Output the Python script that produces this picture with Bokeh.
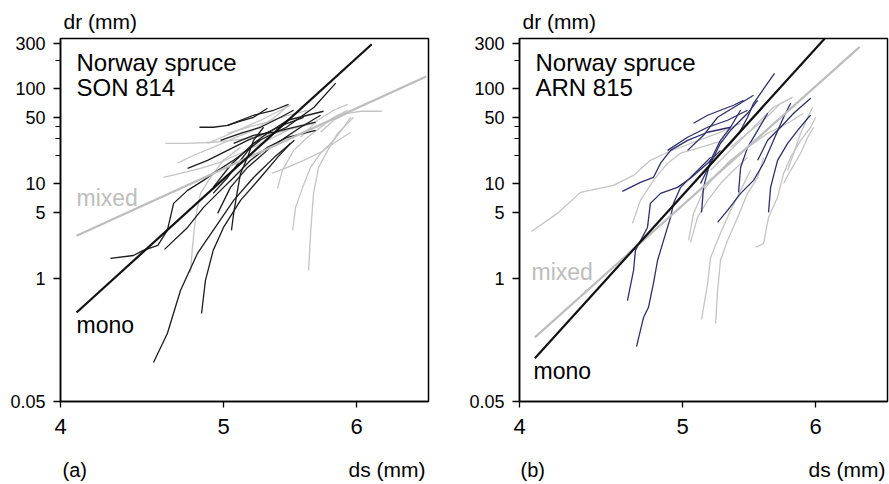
from bokeh.plotting import figure
from bokeh.layouts import row, column
from bokeh.models import Range1d, FixedTicker, Label, PrintfTickFormatter
from bokeh.embed import file_html
from bokeh.resources import INLINE

# ---------------- axes ----------------
X_START, X_END = 4.0, 6.62
Y_START, Y_END = 0.05, 340
X_TICKS = [4, 5, 6]
X_TICK_LABELS = ["4", "5", "6"]
Y_TICKS = [0.05, 1, 5, 10, 50, 100, 300]
Y_TICK_LABELS = ["0.05", "1", "5", "10", "50", "100", "300"]
Y_MINOR = [20, 30, 40, 200]

# ---------------- panel (a) SON 814 ----------------
A_DARK_DS = [
    [4.283, 4.42, 4.48, 4.57, 4.63, 4.67, 4.76, 4.865, 4.93, 5.07, 5.26],
    [4.543, 4.63, 4.714, 4.825, 4.93, 5.07, 5.21, 5.36, 5.51],
    [4.93, 5.048, 5.21, 5.45, 5.66, 5.83],
    [4.852, 4.878, 4.93, 5.00, 5.118, 5.26, 5.384, 5.481],
    [5.055, 5.07, 5.097, 5.118, 5.167, 5.21, 5.282],
    [4.612, 4.76, 4.865, 4.98, 5.07, 5.189, 5.31, 5.458, 5.672],
    [4.838, 4.93, 5.028, 5.118, 5.21, 5.31],
    [5.028, 5.21, 5.355, 5.466],
    [4.76, 4.892, 5.028, 5.167, 5.31, 5.458, 5.58],
    [4.93, 5.028, 5.118, 5.21, 5.31, 5.458, 5.734],
    [5.07, 5.21, 5.355, 5.504, 5.672],
    [4.98, 5.118, 5.26, 5.406, 5.504],
    [4.96, 5.048, 5.167, 5.333, 5.557, 5.711],
]
A_DARK_DR = [
    [1.62, 1.74, 1.97, 2.22, 3.20, 6.18, 8.47, 10.8, 12.8, 17.6, 28.6],
    [0.129, 0.261, 0.743, 1.83, 3.20, 6.64, 11.6, 18.9, 28.6],
    [9.12, 15.6, 26.6, 39.3, 63.9, 115],
    [0.425, 0.949, 1.97, 3.44, 6.64, 11.6, 18.9, 26.6],
    [3.20, 4.84, 8.47, 12.8, 18.9, 28.6, 39.3],
    [2.02, 3.44, 5.60, 8.47, 11.6, 17.6, 24.1, 30.8, 36.5],
    [39.3, 39.3, 41.2, 45.5, 50.1, 62.4],
    [41.2, 52.6, 59.4, 68.7],
    [14.5, 17.6, 22.4, 28.6, 34.8, 43.3, 50.1],
    [7.88, 11.6, 17.6, 26.6, 33.9, 46.6, 58.0],
    [26.6, 32.3, 34.8, 39.3, 44.4],
    [28.6, 33.9, 39.3, 50.1, 59.4],
    [4.84, 9.12, 14.8, 24.1, 39.3, 52.6],
]
A_GRAY_DS = [
    [4.618, 4.76, 4.93, 5.118, 5.31, 5.504, 5.656],
    [4.605, 4.714, 4.845, 4.98, 5.118, 5.31, 5.458],
    [4.695, 4.8, 4.93, 5.07, 5.21, 5.355, 5.458],
    [4.779, 4.792, 4.812, 4.845, 4.912, 5.00, 5.118],
    [5.384, 5.42, 5.504, 5.61, 5.711, 5.814, 5.927],
    [5.496, 5.519, 5.572, 5.633, 5.711, 5.814, 5.894, 5.951],
    [5.618, 5.633, 5.656, 5.695, 5.766, 5.846, 5.975],
    [5.34, 5.458, 5.58, 5.711, 5.814, 5.951],
    [5.711, 5.814, 5.927, 6.033, 6.21],
    [5.557, 5.687, 5.814, 5.927],
    [5.028, 5.167, 5.31, 5.458, 5.61],
    [4.892, 5.07, 5.26, 5.406, 5.481],
]
A_GRAY_DR = [
    [26.6, 26.6, 27.3, 29.3, 32.3, 38.3, 43.3],
    [11.6, 12.8, 14.5, 16.8, 20.9, 28.6, 36.5],
    [16.4, 19.9, 24.1, 30.1, 36.5, 48.9, 65.5],
    [1.15, 2.12, 4.39, 7.88, 11.6, 17.6, 24.1],
    [8.90, 13.8, 22.4, 30.8, 39.3, 50.1, 59.4],
    [3.20, 5.60, 9.12, 14.8, 20.9, 28.6, 39.3, 50.1],
    [1.21, 2.98, 7.88, 14.8, 22.4, 33.9, 50.1],
    [12.8, 14.8, 17.6, 21.4, 26.6, 34.8],
    [34.8, 46.6, 55.2, 58.0, 58.0],
    [30.8, 46.6, 59.4, 68.7],
    [33.9, 39.3, 44.4, 52.6, 59.4],
    [26.6, 34.8, 46.6, 59.4, 67.1],
]
A_MONO_DS, A_MONO_DR = [4.089, 6.125], [0.435, 296]
A_MIXED_DS, A_MIXED_DR = [4.089, 6.60], [2.81, 135]

# ---------------- panel (b) ARN 815 ----------------
B_DARK_DS = [
    [4.605, 4.72, 4.805, 4.852, 4.919, 5.035, 5.175, 5.34],
    [4.637, 4.676, 4.688, 4.766, 4.785, 4.852, 4.966, 5.055, 5.175, 5.267],
    [4.695, 4.74, 4.772, 4.805, 4.832, 4.872, 4.919, 4.939, 4.987, 5.035, 5.125, 5.196],
    [5.132, 5.146, 5.196, 5.267, 5.34, 5.414],
    [5.246, 5.318, 5.414, 5.511, 5.587, 5.664, 5.742, 5.798],
    [5.399, 5.414, 5.466, 5.542, 5.618],
    [5.625, 5.641, 5.695, 5.774, 5.854, 5.935, 5.959],
    [5.076, 5.175, 5.267, 5.362, 5.436],
    [5.267, 5.34, 5.414, 5.466, 5.511, 5.564, 5.618, 5.672],
    [5.035, 5.146, 5.246, 5.414, 5.511],
    [5.542, 5.618, 5.719, 5.822, 5.959],
    [5.125, 5.196, 5.267, 5.34, 5.466, 5.542],
    [4.899, 5.035, 5.175, 5.318, 5.466],
]
B_DARK_DR = [
    [8.27, 10.3, 11.6, 16.4, 22.4, 28.6, 34.8, 39.3],
    [0.582, 1.21, 1.97, 3.44, 6.18, 7.88, 9.12, 11.4, 16.4, 22.4],
    [0.190, 0.385, 0.491, 0.881, 1.54, 2.51, 4.39, 6.18, 9.12, 10.8, 14.8, 18.9],
    [4.96, 9.12, 17.6, 28.6, 39.3, 59.4],
    [3.89, 5.21, 7.88, 10.8, 16.4, 28.6, 50.1, 70.4],
    [8.07, 14.8, 24.1, 36.5, 55.2],
    [4.96, 9.12, 17.6, 26.6, 36.5, 48.9, 52.6],
    [43.3, 52.6, 59.4, 67.1, 75.7],
    [20.9, 26.6, 36.5, 50.1, 70.4, 89.8, 115, 146],
    [22.4, 32.3, 50.1, 70.4, 85.5],
    [17.6, 28.6, 39.3, 55.2, 79.6],
    [10.0, 16.4, 26.6, 36.5, 55.2, 75.7],
    [22.4, 30.8, 39.3, 46.6, 59.4],
]
B_GRAY_DS = [
    [4.066, 4.213, 4.348, 4.549, 4.676, 4.785, 4.899, 5.076, 5.246, 5.414],
    [4.669, 4.72, 4.805, 4.899, 4.987, 5.125, 5.289],
    [5.055, 5.104, 5.175, 5.267, 5.362, 5.466],
    [5.132, 5.175, 5.196, 5.267, 5.34, 5.414, 5.488],
    [5.232, 5.246, 5.267, 5.318, 5.392, 5.466, 5.542, 5.587],
    [5.527, 5.587, 5.625, 5.695, 5.742, 5.798, 5.878, 5.959, 6.0],
    [5.774, 5.822, 5.878, 5.935, 5.975],
    [5.042, 5.076, 5.146, 5.217, 5.34, 5.466, 5.618, 5.774, 5.902],
    [5.196, 5.318, 5.436, 5.564, 5.664, 5.814],
    [5.742, 5.798, 5.878, 5.935, 5.984],
    [5.34, 5.466, 5.587, 5.719, 5.814],
]
B_GRAY_DR = [
    [3.12, 4.84, 8.07, 9.57, 12.2, 17.6, 21.4, 27.3, 33.9, 43.3],
    [3.80, 6.64, 10.8, 16.4, 20.9, 24.1, 28.6],
    [2.39, 4.39, 6.64, 10.0, 13.8, 18.9],
    [0.367, 0.881, 1.66, 2.98, 5.21, 8.47, 13.8],
    [0.333, 0.743, 1.54, 2.51, 4.39, 7.88, 11.6, 18.9],
    [2.12, 2.33, 4.39, 7.15, 12.8, 18.9, 28.6, 39.3, 50.1],
    [13.8, 20.9, 33.9, 50.1, 63.9],
    [2.51, 4.84, 8.47, 11.6, 17.6, 24.1, 33.9, 43.3, 55.2],
    [13.8, 20.9, 30.8, 46.6, 63.9, 81.5],
    [10.0, 13.8, 20.9, 30.8, 39.3],
    [24.1, 33.9, 46.6, 70.4, 81.5],
]
B_MONO_DS, B_MONO_DR = [4.085, 6.075], [0.143, 340]
B_MIXED_DS, B_MIXED_DR = [4.085, 6.373], [0.238, 277]

FONT = "Liberation Sans"
GRAY = "#c4c4c4"

TOTAL_W = 889
TOP_H, MAIN_H, BOT_H = 33, 419, 32


def make_panel(site, dark_ds, dark_dr, dark_col, gray_ds, gray_dr,
               mono_ds, mono_dr, mixed_ds, mixed_dr,
               mixed_pos, mono_pos, width, b_left, b_right):
    p = figure(x_axis_type="log", y_axis_type="log",
               x_range=Range1d(X_START, X_END), y_range=Range1d(Y_START, Y_END),
               width=width, height=MAIN_H,
               min_border_left=b_left, min_border_right=b_right,
               min_border_top=5, min_border_bottom=51,
               output_backend="svg", toolbar_location=None)
    p.xgrid.visible = False
    p.ygrid.visible = False
    p.outline_line_color = "black"
    p.outline_line_width = 1.5
    p.background_fill_color = "white"
    p.border_fill_color = "white"

    xa, ya = p.xaxis[0], p.yaxis[0]
    xa.ticker = FixedTicker(ticks=X_TICKS, minor_ticks=[])
    xa.major_label_overrides = dict(zip(X_TICKS, X_TICK_LABELS))
    ya.ticker = FixedTicker(ticks=Y_TICKS, minor_ticks=Y_MINOR)
    ya.formatter = PrintfTickFormatter(format="%g")
    ya.major_label_overrides = dict(zip(Y_TICKS, Y_TICK_LABELS))
    for ax in (xa, ya):
        ax.axis_line_color = "black"
        ax.axis_line_width = 1.5
        ax.major_tick_line_color = "black"
        ax.major_tick_line_width = 1.3
        ax.minor_tick_line_color = "black"
        ax.minor_tick_line_width = 1.1
        ax.major_tick_in = 0
        ax.minor_tick_in = 0
        ax.major_label_text_font = FONT
        ax.major_label_text_color = "black"
    xa.major_tick_out = 6
    xa.major_label_text_font_size = "22px"
    xa.major_label_standoff = 11
    ya.major_tick_out = 7
    ya.minor_tick_out = 5
    ya.major_label_text_font_size = "18px"
    ya.major_label_standoff = 8

    p.multi_line(xs=gray_ds, ys=gray_dr, line_color=GRAY, line_width=1.3,
                 line_join="round")
    p.multi_line(xs=dark_ds, ys=dark_dr, line_color=dark_col, line_width=1.3,
                 line_join="round")
    p.line(mixed_ds, mixed_dr, line_color="#bdbdbd", line_width=2.2)
    p.line(mono_ds, mono_dr, line_color="#111111", line_width=2.2)

    def lab(text, xo, yo, size, color="black"):
        p.add_layout(Label(x=X_START, y=Y_END, x_offset=xo, y_offset=yo,
                           text=text, text_font=FONT, text_font_size=size,
                           text_color=color, text_align="left",
                           text_baseline="middle"))

    lab("Norway spruce", 16, -24, "24px")
    lab(site, 16, -49, "24px")
    lab("mixed", mixed_pos[0], mixed_pos[1], "23px", color="#bdbdbd")
    lab("mono", mono_pos[0], mono_pos[1], "23px")
    return p


def make_strip(height, items):
    s = figure(width=TOTAL_W, height=height,
               x_range=Range1d(0, TOTAL_W), y_range=Range1d(0, height),
               min_border=0, min_border_left=0, min_border_right=0,
               min_border_top=0, min_border_bottom=0,
               x_axis_location=None, y_axis_location=None,
               output_backend="svg", toolbar_location=None)
    s.xgrid.visible = False
    s.ygrid.visible = False
    s.outline_line_color = None
    s.background_fill_color = "white"
    s.border_fill_color = "white"
    for text, x, y, align, size in items:
        s.add_layout(Label(x=x, y=y, text=text, text_font=FONT,
                           text_font_size=size, text_align=align,
                           text_baseline="middle", text_color="black"))
    return s


top = make_strip(TOP_H, [("dr (mm)", 63, 12, "left", "21px"),
                         ("dr (mm)", 522, 12, "left", "21px")])
pa = make_panel("SON 814", A_DARK_DS, A_DARK_DR, "#1c1c1c",
                A_GRAY_DS, A_GRAY_DR, A_MONO_DS, A_MONO_DR,
                A_MIXED_DS, A_MIXED_DR, (16, -159), (16, -286), 448, 60, 20)
pb = make_panel("ARN 815", B_DARK_DS, B_DARK_DR, "#2e2f6a",
                B_GRAY_DS, B_GRAY_DR, B_MONO_DS, B_MONO_DR,
                B_MIXED_DS, B_MIXED_DR, (12, -233), (14, -332), 441, 71, 2)
bottom = make_strip(BOT_H, [("(a)", 62, 15, "left", "20px"),
                            ("ds (mm)", 425, 15, "right", "21px"),
                            ("(b)", 520, 15, "left", "20px"),
                            ("ds (mm)", 885, 15, "right", "21px")])

layout = column(top, row(pa, pb), bottom)
open("out.html", "w").write(file_html(layout, INLINE))
